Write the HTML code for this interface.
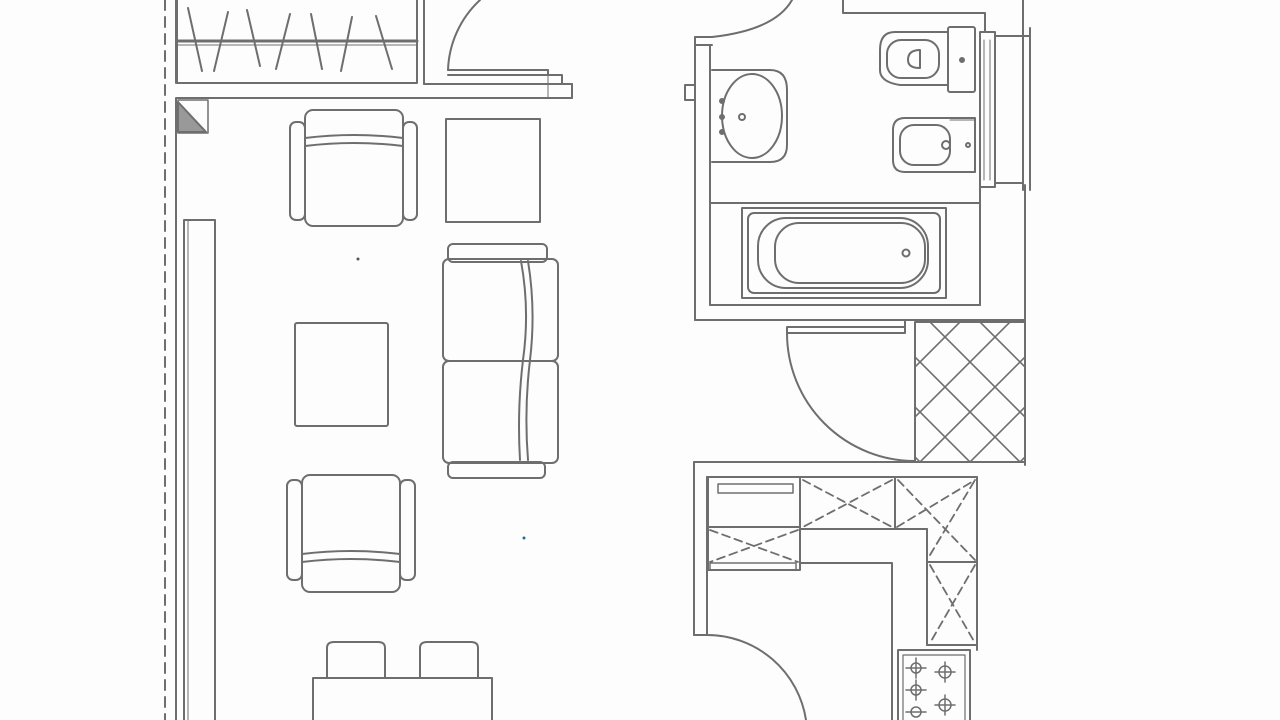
<!DOCTYPE html>
<html><head><meta charset="utf-8"><style>
html,body{margin:0;padding:0;background:#fff;width:1280px;height:720px;overflow:hidden}
svg{display:block}
</style></head><body>
<svg width="1280" height="720" viewBox="0 0 1280 720" xmlns="http://www.w3.org/2000/svg">
<rect width="1280" height="720" fill="#fdfdfd"/>
<g fill="none" stroke="#6e6e6e" stroke-width="2" stroke-linejoin="round" stroke-linecap="round">
<!-- left dashed and walls -->
<line x1="165" y1="0" x2="165" y2="720" stroke-dasharray="10,7"/>
<line x1="176" y1="0" x2="176" y2="83"/>
<line x1="176" y1="98" x2="176" y2="720"/>
<rect x="184" y="220" width="31" height="510"/>
<line x1="188" y1="220" x2="188" y2="720" stroke-width="1"/>
<!-- closet -->
<rect x="177" y="-5" width="240" height="88"/>
<line x1="177" y1="41" x2="417" y2="41" stroke-width="3"/>
<line x1="177" y1="45" x2="417" y2="45" stroke-width="1"/>
<path d="M188 8 L202 71 M228 12 L214 71 M247 10 L260 66 M290 14 L276 69 M311 14 L322 69 M352 17 L341 71 M376 16 L392 69"/>
<line x1="424" y1="0" x2="424" y2="84"/>
<line x1="424" y1="84" x2="572" y2="84"/>
<line x1="177" y1="98" x2="572" y2="98"/>
<line x1="572" y1="84" x2="572" y2="98"/>
<path d="M448 70 A100 100 0 0 1 480 0"/>
<path d="M448 70 L548 70 L548 75 M448 75 L562 75 L562 84"/>
<line x1="548" y1="70" x2="548" y2="98" stroke-width="1"/>
<!-- hatched triangle -->
<path d="M178 100 L208 100 L208 133 L178 133 Z" stroke-width="1.5"/>
<path d="M178 102 L206 132 L178 132 Z" fill="#999"/>
<!-- armchair top -->
<rect x="305" y="110" width="98" height="116" rx="8"/>
<path d="M305 138 Q354 132 403 138 M305 146 Q354 140 403 146"/>
<rect x="290" y="122" width="15" height="98" rx="6"/>
<rect x="403" y="122" width="14" height="98" rx="6"/>
<!-- square table -->
<rect x="446" y="119" width="94" height="103"/>
<!-- sofa -->
<rect x="448" y="244" width="99" height="18" rx="5"/>
<rect x="448" y="462" width="97" height="16" rx="5"/>
<rect x="443" y="259" width="115" height="102" rx="6"/>
<rect x="443" y="361" width="115" height="102" rx="6"/>
<path d="M521 261 Q530 310 523 360 Q517 410 520 460 M528 261 Q536 310 530 360 Q524 410 528 460"/>
<!-- coffee table -->
<rect x="295" y="323" width="93" height="103" rx="2"/>
<!-- armchair bottom -->
<rect x="302" y="475" width="98" height="117" rx="8"/>
<path d="M302 554 Q351 548 400 554 M302 562 Q351 556 400 562"/>
<rect x="287" y="480" width="15" height="100" rx="6"/>
<rect x="400" y="480" width="15" height="100" rx="6"/>
<!-- dining -->
<path d="M327 678 L327 648 Q327 642 334 642 L378 642 Q385 642 385 648 L385 678"/>
<path d="M420 678 L420 648 Q420 642 427 642 L471 642 Q478 642 478 648 L478 678"/>
<rect x="313" y="678" width="179" height="60"/>
<!-- bathroom -->
<line x1="695" y1="37" x2="695" y2="320"/>
<line x1="710" y1="45" x2="710" y2="305"/>
<line x1="695" y1="37" x2="712" y2="37"/>
<line x1="695" y1="45" x2="712" y2="45"/>
<path d="M712 37 Q775 30 792 0"/>
<rect x="685" y="85" width="10" height="15"/>
<path d="M843 0 L843 13 L985 13 L985 32"/>
<line x1="1023" y1="0" x2="1023" y2="190"/>
<line x1="1030" y1="28" x2="1030" y2="190"/>
<line x1="995" y1="36" x2="1030" y2="36"/>
<line x1="995" y1="183" x2="1023" y2="183"/>
<rect x="980" y="32" width="15" height="155"/>
<line x1="984" y1="40" x2="984" y2="180" stroke-width="1"/>
<line x1="990" y1="40" x2="990" y2="180" stroke-width="1"/>
<!-- sink -->
<path d="M712 70 L770 70 Q787 70 787 90 L787 145 Q787 162 770 162 L712 162"/>
<ellipse cx="752" cy="116" rx="30" ry="42"/>
<circle cx="742" cy="117" r="3"/>
<circle cx="722" cy="101" r="2" fill="#6e6e6e"/><circle cx="722" cy="117" r="2"/><circle cx="722" cy="132" r="2" fill="#6e6e6e"/>
<!-- toilet -->
<rect x="948" y="27" width="27" height="65" rx="2"/>
<path d="M948 32 L895 32 Q880 32 880 50 L880 70 Q880 82 900 85 L948 85"/>
<rect x="887" y="40" width="52" height="38" rx="14"/>
<path d="M920 50 Q908 50 908 60 Q908 68 920 68 Z"/>
<circle cx="962" cy="60" r="2" fill="#6e6e6e"/>
<!-- bidet -->
<path d="M975 118 L905 118 Q893 118 893 130 L893 160 Q893 172 905 172 L975 172 Z"/>
<rect x="900" y="125" width="50" height="40" rx="14"/>
<line x1="950" y1="120" x2="975" y2="120" stroke-width="1"/>
<circle cx="946" cy="145" r="4"/><circle cx="968" cy="145" r="2"/>
<!-- bath -->
<line x1="710" y1="203" x2="980" y2="203"/>
<line x1="980" y1="187" x2="980" y2="305"/>
<rect x="742" y="208" width="204" height="90"/>
<rect x="748" y="213" width="192" height="80" rx="6"/>
<rect x="758" y="218" width="170" height="70" rx="28"/>
<rect x="775" y="223" width="150" height="60" rx="24"/>
<circle cx="906" cy="253" r="3.5"/>
<line x1="710" y1="305" x2="980" y2="305"/>
<line x1="695" y1="320" x2="1025" y2="320"/>
<line x1="1025" y1="185" x2="1025" y2="465"/>
<!-- corridor door -->
<path d="M787 333 L905 333 L905 320 M787 333 L787 327 L905 327"/>
<path d="M787 333 A128 128 0 0 0 915 461"/>
<!-- tiles -->
<rect x="915" y="322" width="110" height="140"/>
<clipPath id="tc"><rect x="915" y="322" width="110" height="140"/></clipPath>
<g clip-path="url(#tc)" stroke-width="1.6">
<path d="M880 322 L1080 522 M880 372 L1030 522 M880 272 L1080 472 M880 222 L1080 422 M880 172 L1080 372 M880 422 L1000 542"/>
<path d="M1060 322 L860 522 M1060 372 L860 572 M1060 272 L860 472 M1060 222 L860 422 M1060 172 L860 372 M1060 422 L900 582"/>
</g>
<!-- kitchen -->
<line x1="694" y1="462" x2="1025" y2="462"/>
<line x1="694" y1="462" x2="694" y2="635"/>
<line x1="707" y1="477" x2="707" y2="635"/>
<line x1="694" y1="635" x2="707" y2="635"/>
<line x1="707" y1="477" x2="977" y2="477"/>
<line x1="977" y1="477" x2="977" y2="650"/>
<rect x="708" y="477" width="92" height="93"/>
<rect x="718" y="484" width="75" height="9" stroke-width="1.5"/>
<line x1="708" y1="527" x2="800" y2="527"/>
<rect x="710" y="563" width="86" height="7" stroke-width="1.5"/>
<line x1="800" y1="477" x2="800" y2="563"/>
<line x1="800" y1="529" x2="927" y2="529"/>
<line x1="895" y1="477" x2="895" y2="529"/>
<line x1="927" y1="529" x2="927" y2="645"/>
<line x1="927" y1="562" x2="977" y2="562"/>
<line x1="927" y1="645" x2="977" y2="645"/>
<path d="M800 563 L892 563 L892 720"/>
<g stroke-dasharray="8,5" stroke-width="1.8">
<path d="M803 480 L892 527 M892 480 L803 527"/>
<path d="M710 530 L798 562 M798 530 L710 562"/>
<path d="M897 527 L975 480 M898 480 L975 560 M930 555 L975 480"/>
<path d="M930 565 L975 643 M975 565 L930 643"/>
</g>
<path d="M707 635 A100 100 0 0 1 806 720"/>
<!-- stove -->
<rect x="898" y="650" width="72" height="80"/>
<rect x="903" y="655" width="62" height="75" stroke-width="1.2"/>
<g stroke-width="1.5">
<circle cx="916" cy="668" r="5"/><circle cx="916" cy="690" r="5"/><circle cx="945" cy="672" r="6"/><circle cx="945" cy="705" r="6"/><circle cx="916" cy="712" r="5"/>
<path d="M906 668 L926 668 M916 658 L916 678 M906 690 L926 690 M916 680 L916 700 M935 672 L955 672 M945 662 L945 682 M935 705 L955 705 M945 695 L945 715 M906 712 L926 712"/>
</g>
</g>
<circle cx="358" cy="259" r="1.5" fill="#555"/>
<circle cx="524" cy="538" r="1.5" fill="#2a6a8a"/>
</svg>
</body></html>
